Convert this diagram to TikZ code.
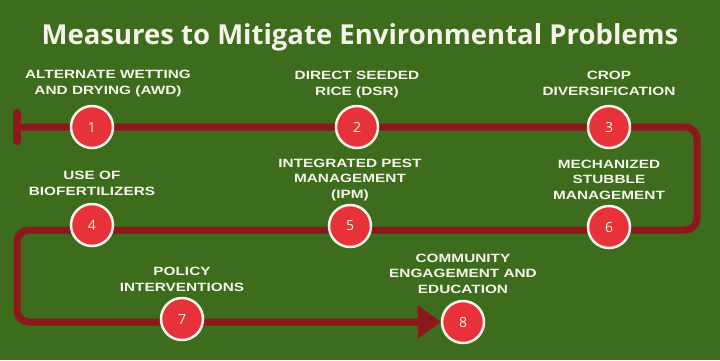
\documentclass[tikz,border=0pt]{standalone}
\usepackage{fontspec}
\newfontfamily\titlefont{Open Sans}
\newfontfamily\labelfont{Liberation Sans}[FakeStretch=1.28]
\usetikzlibrary{arrows.meta,positioning}
\definecolor{bggreen}{RGB}{61,108,29}
\definecolor{pathred}{RGB}{140,24,28}
\definecolor{stepred}{RGB}{232,50,58}
\definecolor{cream}{RGB}{246,244,234}
\pgfdeclarelayer{bg}
\pgfdeclarelayer{trackline}
\pgfsetlayers{bg,trackline,main}

\begin{document}
\begin{tikzpicture}[
    x=1pt, y=-1pt,
    stepnum/.style={circle, fill=stepred, draw=cream, line width=2.5pt, minimum size=42pt, inner sep=0pt, text=cream, font=\titlefont\fontsize{14}{14}\selectfont},
    steplabel/.style={align=center, inner sep=0pt, text=cream, font=\labelfont\bfseries\fontsize{12}{15.5}\selectfont},
    track/.style={draw=pathred, line width=7pt, rounded corners=12pt},
]

% Background
\begin{pgfonlayer}{bg}
\fill[bggreen] (0,0) rectangle (720,360);
\end{pgfonlayer}
\useasboundingbox (0,0) rectangle (720,360);

% Title
\node[text=cream, font=\titlefont\bfseries\fontsize{27.5}{32}\selectfont] (title) at (360,37) {Measures to Mitigate Environmental Problems};

% Steps
\node[stepnum] (c1) at (92,127) {1};
\node[stepnum] (c2) at (357,127) {2};
\node[stepnum] (c3) at (609,127) {3};
\node[stepnum] (c4) at (92,225) {4};
\node[stepnum] (c5) at (350,226) {5};
\node[stepnum] (c6) at (609,227) {6};
\node[stepnum] (c7) at (182,319) {7};
\node[stepnum] (c8) at (463,322) {8};

% Track corners
\coordinate (start) at (17,127);
\coordinate (ne) at (697,127);
\coordinate (se) at (697,230);
\coordinate (mw) at (17,230);
\coordinate (sw) at (17,322);

% Track
\begin{pgfonlayer}{trackline}
\draw[pathred, line width=8pt, line cap=round] ([yshift=-14pt]start) -- ([yshift=14pt]start);
\draw[track, -{Triangle[length=23pt, width=32pt]}] (start) -- (ne) -- (se) -- (mw) -- (sw) -- (c8.west);
\end{pgfonlayer}

% Labels
\node[steplabel, above=8pt of c1, xshift=16pt] (l1) {ALTERNATE WETTING\\AND DRYING (AWD)};
\node[steplabel, above=7pt of c2] (l2) {DIRECT SEEDED\\RICE (DSR)};
\node[steplabel, above=9pt of c3] (l3) {CROP\\DIVERSIFICATION};
\node[steplabel, above=7pt of c4] (l4) {USE OF\\BIOFERTILIZERS};
\node[steplabel, above=3pt of c5] (l5) {INTEGRATED PEST\\MANAGEMENT\\(IPM)};
\node[steplabel, above=5pt of c6] (l6) {MECHANIZED\\STUBBLE\\MANAGEMENT};
\node[steplabel, above=5pt of c7] (l7) {POLICY\\INTERVENTIONS};
\node[steplabel, above=6pt of c8] (l8) {COMMUNITY\\ENGAGEMENT AND\\EDUCATION};

\end{tikzpicture}
\end{document}
